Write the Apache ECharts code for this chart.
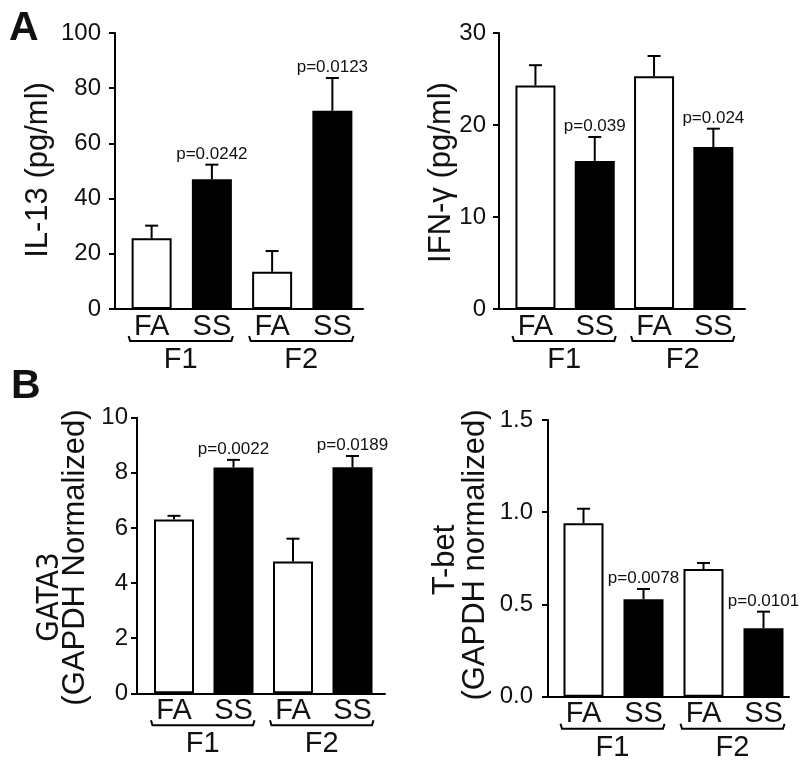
<!DOCTYPE html>
<html>
<head>
<meta charset="utf-8">
<script src="https://cdn.jsdelivr.net/npm/echarts@6/dist/echarts.min.js"></script>
<style>html,body{margin:0;padding:0;background:#fff}#c{width:800px;height:763px}</style>
</head>
<body>
<div id="c"></div>
<script>
// ---- data ----
const categories = ['FA', 'SS', 'FA', 'SS'];
const groups = ['F1', 'F2'];
const groupSpans = [[0, 1], [2, 3]];

const il13Mean = [25.6, 47.0, 13.5, 71.8];
const il13Sem  = [4.6, 5.3, 7.5, 11.9];
const il13P    = ['', 'p=0.0242', '', 'p=0.0123'];

const ifngMean = [24.3, 16.1, 25.3, 17.6];
const ifngSem  = [2.2, 2.6, 2.2, 2.0];
const ifngP    = ['', 'p=0.039', '', 'p=0.024'];

const gata3Mean = [6.31, 8.19, 4.78, 8.2];
const gata3Sem  = [0.13, 0.28, 0.83, 0.41];
const gata3P    = ['', 'p=0.0022', '', 'p=0.0189'];

const tbetMean = [0.94, 0.528, 0.692, 0.371];
const tbetSem  = [0.079, 0.056, 0.033, 0.09];
const tbetP    = ['', 'p=0.0078', '', 'p=0.0101'];

// ---- layout ----
const FONT = '"Liberation Sans", Arial, sans-serif';
const NARROW = '"Liberation Sans Narrow", "DejaVu Sans Condensed", "Liberation Sans", sans-serif';
const BAR_W = 40;
const panels = [
  { mean: il13Mean, sem: il13Sem, p: il13P, max: 100, step: 20, fmt: v => String(v),
    bars: { left: 121.5, width: 241, top: 33, height: 276 },
    axis: { left: 115, width: 248, top: 33, height: 276 }, labMargin: 14 },
  { mean: ifngMean, sem: ifngSem, p: ifngP, max: 30, step: 10, fmt: v => String(v),
    bars: { left: 505.8, width: 237.2, top: 33, height: 276 },
    axis: { left: 499, width: 246, top: 33, height: 276 }, labMargin: 13 },
  { mean: gata3Mean, sem: gata3Sem, p: gata3P, max: 10, step: 2, fmt: v => String(v),
    bars: { left: 144.25, width: 238, top: 417.7, height: 275.6 },
    axis: { left: 137, width: 248, top: 417.7, height: 275.6 }, labMargin: 9 },
  { mean: tbetMean, sem: tbetSem, p: tbetP, max: 1.5, step: 0.5, fmt: v => v.toFixed(1),
    bars: { left: 553.5, width: 240, top: 420, height: 276.7 },
    axis: { left: 548, width: 241, top: 420, height: 276.7 }, labMargin: 15 }
];

function errRender(labels) {
  return function (params, api) {
    const i = api.value(0), m = api.value(1), e = api.value(2);
    const base = api.coord([i, m]);
    const top = api.coord([i, m + e]);
    const st = { stroke: '#000', lineWidth: 2 };
    const children = [
      { type: 'line', shape: { x1: base[0], y1: base[1], x2: top[0], y2: top[1] }, style: st },
      { type: 'line', shape: { x1: top[0] - 6.5, y1: top[1], x2: top[0] + 6.5, y2: top[1] }, style: st }
    ];
    const t = labels[params.dataIndex];
    if (t) {
      children.push({ type: 'text', x: top[0], y: top[1] - 2,
        style: { text: t, font: '17px ' + FONT, fill: '#111', align: 'center', verticalAlign: 'bottom' } });
    }
    return { type: 'group', children };
  };
}

function bracketRender(params, api) {
  const a = api.coord([api.value(0), 0]);
  const b = api.coord([api.value(1), 0]);
  const y = a[1] + 32;
  const L = a[0] - BAR_W / 2 - 3, R = b[0] + BAR_W / 2 + 1;
  return { type: 'group', children: [
    { type: 'polyline', shape: { points: [[L, y - 5], [L + 1.5, y], [R - 1.5, y], [R, y - 5]] },
      style: { stroke: '#000', lineWidth: 2, fill: null } },
    { type: 'text', x: (L + R) / 2, y: y + 19,
      style: { text: groups[params.dataIndex], font: '29px ' + FONT, fill: '#111', align: 'center', verticalAlign: 'middle' } }
  ]};
}

const grid = [], xAxis = [], yAxis = [], series = [];
panels.forEach((P, k) => {
  const gb = 2 * k, ga = 2 * k + 1;
  grid.push(Object.assign({}, P.bars, { containLabel: false }));
  grid.push(Object.assign({}, P.axis, { containLabel: false }));
  xAxis.push({ type: 'category', gridIndex: gb, data: categories,
    axisLine: { show: false }, axisTick: { show: false },
    axisLabel: { interval: 0, margin: 3, fontSize: 29, color: '#111', fontFamily: FONT } });
  yAxis.push({ type: 'value', gridIndex: gb, min: 0, max: P.max, show: false, splitLine: { show: false } });
  xAxis.push({ type: 'value', gridIndex: ga, min: 0, max: 1,
    axisLine: { show: true, lineStyle: { color: '#000', width: 2 } },
    axisTick: { show: false }, axisLabel: { show: false }, splitLine: { show: false } });
  yAxis.push({ type: 'value', gridIndex: ga, min: 0, max: P.max, interval: P.step,
    axisLine: { show: true, lineStyle: { color: '#000', width: 2 } },
    axisTick: { show: true, inside: false, length: 6, lineStyle: { color: '#000', width: 2 } },
    axisLabel: { margin: P.labMargin, fontSize: 24, color: '#111', fontFamily: FONT, formatter: P.fmt },
    splitLine: { show: false } });
  series.push({ type: 'bar', xAxisIndex: gb, yAxisIndex: gb, barWidth: BAR_W,
    data: P.mean.map((v, i) => ({ name: categories[i], value: v })),
    itemStyle: { color: p => (p.name === 'FA' ? '#fff' : '#000'), borderColor: '#000', borderWidth: 2 },
    silent: true, animation: false });
  series.push({ type: 'custom', xAxisIndex: gb, yAxisIndex: gb, clip: false,
    data: P.mean.map((v, i) => [i, v, P.sem[i]]), encode: { x: 0, y: 1 },
    renderItem: errRender(P.p), silent: true, animation: false, z: 3 });
  series.push({ type: 'custom', xAxisIndex: gb, yAxisIndex: gb, clip: false,
    data: groupSpans.map(s => [s[0], s[1], 0]), encode: { x: 0, y: 2 },
    renderItem: bracketRender, silent: true, animation: false, z: 3 });
});

function vtext(text, x, y, family) {
  return { type: 'text', x: x, y: y, rotation: Math.PI / 2,
    style: { text: text, font: '31px ' + (family || FONT), fill: '#111', align: 'center', verticalAlign: 'middle' } };
}

const graphic = [
  { type: 'text', x: 9, y: 8, style: { text: 'A', font: 'bold 41px ' + FONT, fill: '#111' } },
  { type: 'text', x: 11, y: 366, style: { text: 'B', font: 'bold 41px ' + FONT, fill: '#111' } },
  vtext('IL-13 (pg/ml)', 38, 170),
  vtext('IFN-\u03b3 (pg/ml)', 441, 172.5),
  vtext('GATA3', 49.5, 597, NARROW),
  vtext('(GAPDH Normalized)', 75, 557.5),
  vtext('T-bet', 445.5, 560),
  vtext('(GAPDH normalized)', 475.5, 555)
];

const chart = echarts.init(document.getElementById('c'), null, { renderer: 'canvas' });
chart.setOption({
  animation: false,
  backgroundColor: '#fff',
  textStyle: { fontFamily: FONT },
  grid, xAxis, yAxis, series, graphic
});
</script>
</body>
</html>
